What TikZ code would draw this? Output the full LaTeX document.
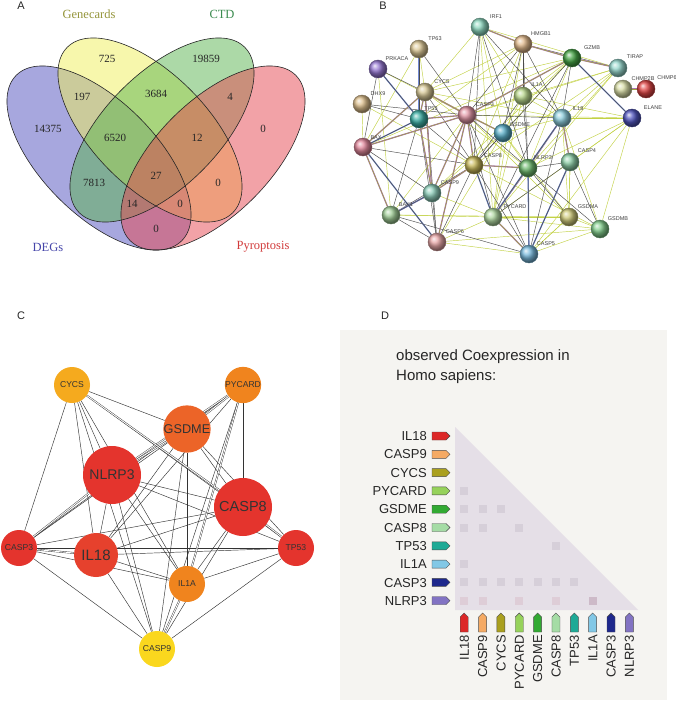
\documentclass[tikz,border=0pt]{standalone}
\usepackage{fontspec}
\setmainfont{Liberation Sans}
\newfontfamily\vennfont{Liberation Serif}
\pgfdeclarelayer{bg}
\pgfdeclarelayer{paper}
\pgfsetlayers{paper,bg,main}
% Venn colours
\definecolor{vblue}{RGB}{80,80,190}
\definecolor{vyellow}{RGB}{240,240,90}
\definecolor{vgreen}{RGB}{90,180,80}
\definecolor{vpink}{RGB}{230,70,80}
\definecolor{lGene}{RGB}{150,150,60}
\definecolor{lCTD}{RGB}{60,140,80}
\definecolor{lDEG}{RGB}{70,70,170}
\definecolor{lPyro}{RGB}{210,60,60}
% STRING colours
\definecolor{btmc}{RGB}{195,210,70}
\definecolor{bmag}{RGB}{150,80,160}
\definecolor{bblu}{RGB}{80,110,200}
\definecolor{cIRF1}{RGB}{140,215,190}
\definecolor{cHMGB1}{RGB}{225,185,140}
\definecolor{cGZMB}{RGB}{70,165,70}
\definecolor{cTIRAP}{RGB}{150,215,205}
\definecolor{cTP63}{RGB}{220,200,150}
\definecolor{cPRKACA}{RGB}{150,120,210}
\definecolor{cCHMP2B}{RGB}{215,220,165}
\definecolor{cCHMP6}{RGB}{225,70,70}
\definecolor{cCYCS}{RGB}{215,200,150}
\definecolor{cIL1A}{RGB}{185,215,140}
\definecolor{cDHX9}{RGB}{220,190,140}
\definecolor{cTP53}{RGB}{60,175,165}
\definecolor{cCASP3}{RGB}{225,150,165}
\definecolor{cIL18}{RGB}{140,205,220}
\definecolor{cELANE}{RGB}{80,85,190}
\definecolor{cGSDME}{RGB}{90,175,200}
\definecolor{cBAX}{RGB}{225,135,155}
\definecolor{cCASP8}{RGB}{200,185,90}
\definecolor{cNLRP3}{RGB}{110,185,110}
\definecolor{cCASP4}{RGB}{140,205,165}
\definecolor{cCASP9}{RGB}{140,205,185}
\definecolor{cBAK1}{RGB}{160,205,150}
\definecolor{cPYCARD}{RGB}{175,215,160}
\definecolor{cGSDMA}{RGB}{205,200,120}
\definecolor{cGSDMB}{RGB}{130,205,140}
\definecolor{cCASP6}{RGB}{230,165,165}
\definecolor{cCASP5}{RGB}{120,185,220}
% panel C colours
\definecolor{kYel}{RGB}{250,215,30}
\definecolor{kOrY}{RGB}{245,170,30}
\definecolor{kOr}{RGB}{240,132,30}
\definecolor{kOrR}{RGB}{236,100,40}
\definecolor{kRed}{RGB}{228,52,45}
\definecolor{kRed2}{RGB}{230,65,45}
% panel D colours
\definecolor{dbg}{RGB}{245,244,241}
\definecolor{dtri}{RGB}{229,223,231}
\definecolor{dcellc}{RGB}{214,207,217}
\definecolor{dcellp}{RGB}{222,205,215}
\definecolor{dcelld}{RGB}{205,186,200}
\definecolor{tIL18}{RGB}{220,40,40}
\definecolor{tCASP9}{RGB}{245,170,100}
\definecolor{tCYCS}{RGB}{170,160,30}
\definecolor{tPYCARD}{RGB}{150,210,90}
\definecolor{tGSDME}{RGB}{50,170,50}
\definecolor{tCASP8}{RGB}{165,220,165}
\definecolor{tTP53}{RGB}{30,170,150}
\definecolor{tIL1A}{RGB}{130,200,230}
\definecolor{tCASP3}{RGB}{30,40,140}
\definecolor{tNLRP3}{RGB}{130,115,195}
\tikzset{
  panellbl/.style={font=\fontsize{11}{13}\selectfont, text=black!85, inner sep=0},
  vnum/.style={font=\vennfont\fontsize{11}{13}\selectfont, text=black!85, inner sep=0},
  vlbl/.style={font=\vennfont\fontsize{12.5}{14}\selectfont, inner sep=0},
  vline/.style={draw=black!85, line width=0.6pt},
  bnode/.style={circle, minimum size=18pt, inner sep=0, draw=#1!55!black, line width=0.4pt, ball color=#1},
  blbl/.style={font=\fontsize{5.5}{6}\selectfont, text=black!75, inner sep=0},
  btm/.style={draw=btmc, line width=0.45pt},
  bco/.style={draw=black!70, line width=0.45pt},
  bbu/.style={draw=bmag!80, double=btmc!80!black, double distance=0.5pt, line width=0.4pt},
  bbl/.style={draw=bblu!80, double=black!70, double distance=0.5pt, line width=0.4pt},
  cnode/.style={circle, fill=#1, inner sep=0, text=black!80},
  cedge/.style={draw=black!80, line width=0.45pt},
  cedgeb/.style={draw=black!80, double=white, double distance=0.9pt, line width=0.4pt},
  dlbl/.style={font=\fontsize{13}{15}\selectfont, text=black!85, inner sep=0, anchor=base east},
  dclbl/.style={font=\fontsize{13}{15}\selectfont, text=black!85, inner sep=0, anchor=base east, rotate=90},
  dtag/.style={draw=black!70, line width=0.4pt, fill=#1},
}
\begin{document}
\begin{tikzpicture}[x=1pt,y=-1pt]
\useasboundingbox (0,0) rectangle (676,704);
\begin{pgfonlayer}{paper}
\fill[white] (0,0) rectangle (676,704);
\fill[dbg] (340,330) rectangle (667,700);
\end{pgfonlayer}

% ---------------- Panel labels
\node[panellbl] (pA) at (21,6) {A};
\node[panellbl] (pB) at (383,6) {B};
\node[panellbl] (pC) at (21,316) {C};
\node[panellbl] (pD) at (385,316) {D};

% ---------------- Panel A: Venn
\begin{scope}[fill opacity=0.5]
\fill[vblue, shift={(99,158)}, rotate=-45] (0,0) ellipse [x radius=117, y radius=57];
\fill[vyellow, shift={(150,130)}, rotate=-45] (0,0) ellipse [x radius=117, y radius=57];
\fill[vgreen, shift={(162,130)}, rotate=45] (0,0) ellipse [x radius=117, y radius=57];
\fill[vpink, shift={(213,158)}, rotate=45] (0,0) ellipse [x radius=117, y radius=57];
\end{scope}
\draw[vline, shift={(99,158)}, rotate=-45] (0,0) ellipse [x radius=117, y radius=57];
\draw[vline, shift={(150,130)}, rotate=-45] (0,0) ellipse [x radius=117, y radius=57];
\draw[vline, shift={(162,130)}, rotate=45] (0,0) ellipse [x radius=117, y radius=57];
\draw[vline, shift={(213,158)}, rotate=45] (0,0) ellipse [x radius=117, y radius=57];

\node[vnum] (n725) at (107,59) {725};
\node[vnum] (n19859) at (206,59) {19859};
\node[vnum] (n197) at (82,97) {197};
\node[vnum] (n3684) at (156,94) {3684};
\node[vnum] (n4) at (230,97) {4};
\node[vnum] (n14375) at (48,129) {14375};
\node[vnum] (n6520) at (115,138) {6520};
\node[vnum] (n12) at (197,138) {12};
\node[vnum] (n0a) at (263,129) {0};
\node[vnum] (n27) at (156,176) {27};
\node[vnum] (n7813) at (94,183) {7813};
\node[vnum] (n0b) at (218,183) {0};
\node[vnum] (n14) at (132,204) {14};
\node[vnum] (n0c) at (180,204) {0};
\node[vnum] (n0d) at (156,229) {0};
\node[vlbl, text=lGene] (lg) at (89,14) {Genecards};
\node[vlbl, text=lCTD] (lc) at (222,14) {CTD};
\node[vlbl, text=lDEG] (ld) at (48,247) {DEGs};
\node[vlbl, text=lPyro] (lp) at (263,247) {Pyroptosis};

% ---------------- Panel B: STRING network
\foreach \n/\x/\y in {IRF1/480/27, HMGB1/523/44, GZMB/572/58, TIRAP/618/68, TP63/419/49,
  PRKACA/378/69, CHMP2B/623/89, CHMP6/646/89, CYCS/425/92, IL1A/523/96, DHX9/362/104,
  TP53/419/119, CASP3/467/115, IL18/562/118, ELANE/632/118, GSDME/503/133, BAX/363/147,
  CASP8/474/165, NLRP3/528/168, CASP4/570/162, CASP9/432/193, BAK1/391/215, PYCARD/493/217,
  GSDMA/569/217, GSDMB/600/229, CASP6/437/242, CASP5/529/254}
  \node[bnode=c\n] (b\n) at (\x,\y) {};
\foreach \n/\x/\y in {IRF1/496/17, HMGB1/541/34, GZMB/592/48, TIRAP/635/57, TP63/435/39,
  PRKACA/397/59, CHMP2B/643/79, CHMP6/667/78, CYCS/442/82, IL1A/537/85, DHX9/378/94,
  TP53/431/109, CASP3/485/105, IL18/578/109, ELANE/653/108, GSDME/520/125, BAX/376/138,
  CASP8/493/156, NLRP3/543/158, CASP4/587/151, CASP9/450/183, BAK1/406/205, PYCARD/515/207,
  GSDMA/588/207, GSDMB/618/219, CASP6/455/232, CASP5/546/244}
  \node[blbl] (bl\n) at (\x,\y) {\n};
\begin{pgfonlayer}{bg}
\foreach \a/\b in {IRF1/CYCS, IRF1/TIRAP, TIRAP/IL18, TIRAP/NLRP3, TIRAP/CASP8, TIRAP/PYCARD,
  TIRAP/CASP3, TIRAP/IL1A, ELANE/IL18, ELANE/PYCARD, ELANE/GSDMB, ELANE/CASP5, ELANE/CASP4,
  ELANE/IL1A, ELANE/CASP3, ELANE/NLRP3, GSDMB/PYCARD, GSDMB/CASP5, GSDMB/GSDMA, GSDMB/CASP8,
  GSDMA/PYCARD, GSDMA/CASP4, GSDMA/CASP3, GSDMA/CASP5, CASP5/PYCARD, GSDME/IL1A, GSDME/NLRP3,
  GSDME/PYCARD, GSDME/IL18, GSDME/GSDMA, IL1A/IL18, IL1A/PYCARD, IL1A/CASP3, IL1A/GZMB,
  HMGB1/CASP8, HMGB1/PYCARD, HMGB1/TP53, HMGB1/CYCS, GZMB/TIRAP, GZMB/CASP9, GZMB/BAX,
  GZMB/NLRP3, GZMB/GSDME, GZMB/CYCS, PRKACA/CASP3, PRKACA/BAK1, DHX9/BAX, DHX9/CASP8,
  TP63/CYCS, TP63/BAX, BAX/CASP6, CYCS/NLRP3, CYCS/GSDME, CYCS/IL18, CASP9/PYCARD,
  CASP9/GSDME, CASP6/PYCARD, CASP6/GSDME, BAK1/CASP3, IRF1/GSDME, IRF1/PYCARD, IRF1/IL1A,
  IL18/GSDMB, IL18/GSDMA, CASP4/GSDMA, PYCARD/CASP8, CASP5/GSDMA, BAK1/PYCARD, CASP6/GSDMB,
  CASP6/CASP5, BAK1/GSDMA}
  \draw[btm] (b\a) -- (b\b);
\foreach \a/\b in {IRF1/CASP3, IRF1/CASP8, IRF1/NLRP3, IRF1/IL18, HMGB1/CASP3, HMGB1/NLRP3,
  HMGB1/IL18, HMGB1/IL1A, HMGB1/TIRAP, GZMB/IL18, GZMB/CASP8, GZMB/PYCARD, TP63/CASP3,
  PRKACA/CYCS, PRKACA/TP53, DHX9/TP53, DHX9/CASP3, CYCS/CASP8, CYCS/CASP6, TP53/BAK1,
  TP53/CASP6, TP53/CASP8, CASP3/PYCARD, CASP3/NLRP3, CASP3/IL18, CASP3/CASP5, CASP8/CASP5,
  CASP8/BAK1, NLRP3/CASP4, NLRP3/GSDMA, NLRP3/GSDMB, IL18/CASP5, CASP4/GSDMB, CASP4/CASP5,
  PYCARD/CASP4, GSDME/CASP8, IL1A/CASP8, IL1A/NLRP3, BAX/CASP9, BAX/CASP8, BAK1/CASP6,
  CASP9/CASP6, BAK1/CASP5, PRKACA/BAX, HMGB1/GSDME, CASP6/CASP8}
  \draw[bco] (b\a) -- (b\b);
\foreach \a/\b in {IRF1/HMGB1, HMGB1/GZMB, GZMB/TIRAP, CYCS/CASP9, CYCS/CASP3, TP53/CASP9,
  CASP3/CASP8, CASP3/CASP9, CASP8/CASP9, CASP3/CASP6, NLRP3/PYCARD, CASP3/BAX, BAK1/CASP9,
  TP53/CASP3, CYCS/BAX, GZMB/CASP3, CASP3/GSDME, NLRP3/IL18, CYCS/TP53, PYCARD/CASP5,
  IL18/CASP4, CASP8/NLRP3, BAX/BAK1, CHMP2B/CHMP6}
  \draw[bbu] (b\a) -- (b\b);
\foreach \a/\b in {GZMB/ELANE, TP63/TP53, TP53/BAX, NLRP3/CASP5, CASP9/BAK1, PRKACA/TP53,
  BAX/CASP6, CASP8/PYCARD, IL18/PYCARD, CASP4/CASP5}
  \draw[bbl] (b\a) -- (b\b);
\end{pgfonlayer}

% ---------------- Panel C: hub network
\node[cnode=kOrY, minimum size=36pt, font=\fontsize{8.6}{9}\selectfont] (cCYCS) at (72,385) {CYCS};
\node[cnode=kOr, minimum size=36pt, font=\fontsize{8.6}{9}\selectfont] (cPYCARD) at (243,385) {PYCARD};
\node[cnode=kOrR, minimum size=44pt, font=\fontsize{12.7}{13}\selectfont] (cGSDME) at (187,429) {GSDME};
\node[cnode=kRed, minimum size=58pt, font=\fontsize{14}{15}\selectfont] (cNLRP3) at (112,475) {NLRP3};
\node[cnode=kRed, minimum size=58pt, font=\fontsize{14.5}{15}\selectfont] (cCASP8) at (243,507) {CASP8};
\node[cnode=kRed, minimum size=36pt, font=\fontsize{8.6}{9}\selectfont] (cCASP3) at (19,548) {CASP3};
\node[cnode=kRed2, minimum size=44pt, font=\fontsize{15}{16}\selectfont] (cIL18) at (96,555) {IL18};
\node[cnode=kRed, minimum size=36pt, font=\fontsize{8.6}{9}\selectfont] (cTP53) at (296,548) {TP53};
\node[cnode=kOr, minimum size=36pt, font=\fontsize{8.6}{9}\selectfont] (cIL1A) at (187,584) {IL1A};
\node[cnode=kYel, minimum size=36pt, font=\fontsize{8.6}{9}\selectfont] (cCASP9) at (157,649) {CASP9};
\begin{pgfonlayer}{bg}
\foreach \a/\b in {CYCS/GSDME, CYCS/NLRP3, CYCS/CASP3, CYCS/IL18, CYCS/TP53, CYCS/IL1A, CYCS/CASP9,
  PYCARD/CASP8, PYCARD/CASP3, PYCARD/IL18, PYCARD/CASP9,
  GSDME/CASP8, GSDME/CASP3, GSDME/IL18, GSDME/TP53, GSDME/IL1A, GSDME/CASP9,
  NLRP3/CASP8, NLRP3/IL18, NLRP3/TP53, NLRP3/IL1A, NLRP3/CASP9,
  CASP8/CASP3, CASP8/IL18, CASP8/IL1A, CASP8/CASP9,
  CASP3/TP53, CASP3/IL1A, CASP3/CASP9, IL18/TP53, IL18/IL1A, IL18/CASP9,
  TP53/IL1A, TP53/CASP9}
  \draw[cedge] (c\a) -- (c\b);
\foreach \a/\b in {GSDME/NLRP3, PYCARD/NLRP3, PYCARD/GSDME, CASP8/TP53, CYCS/CASP8,
  NLRP3/CASP3, PYCARD/IL1A, CASP3/IL18, IL1A/CASP9}
  \draw[cedgeb] (c\a) -- (c\b);
\end{pgfonlayer}

% ---------------- Panel D: coexpression
\node[anchor=base west, inner sep=0, font=\fontsize{15}{18}\selectfont, text=black!85] (dt1) at (396,360) {observed Coexpression in};
\node[anchor=base west, inner sep=0, font=\fontsize{15}{18}\selectfont, text=black!85] (dt2) at (396,380) {Homo sapiens:};
\fill[dtri] (455,427) -- (455,610) -- (638,610) -- cycle;
\foreach \r/\c in {3/0, 4/0, 4/1, 4/2, 5/0, 5/1, 5/3, 6/5, 7/0, 8/0, 8/1, 8/2, 8/3, 8/4, 8/5, 8/6}
  \fill[dcellc] ({464.2+18.35*\c-4},{436+18.3*\r-4}) rectangle ++(8,8);
\foreach \r/\c in {9/0, 9/1, 9/3, 9/5}
  \fill[dcellp] ({464.2+18.35*\c-4},{436+18.3*\r-4}) rectangle ++(8,8);
\fill[dcelld] ({464.2+18.35*7-4},{436+18.3*9-4}) rectangle ++(8,8);
\foreach \n [count=\i from 0] in {IL18, CASP9, CYCS, PYCARD, GSDME, CASP8, TP53, IL1A, CASP3, NLRP3} {
  \pgfmathsetmacro{\yy}{436+18.3*\i}
  \pgfmathsetmacro{\xx}{464.2+18.35*\i}
  \node[dlbl] (dr\n) at (427,\yy+4.6) {\n};
  \draw[dtag=t\n] (432,\yy-4) -- (446,\yy-4) -- (450,\yy) -- (446,\yy+4) -- (432,\yy+4) -- cycle;
  \draw[dtag=t\n] (\xx-4,632) -- (\xx-4,617) -- (\xx,613) -- (\xx+4,617) -- (\xx+4,632) -- cycle;
  \node[dclbl] (dc\n) at (\xx+4.6,635) {\n};
}
\end{tikzpicture}
\end{document}
